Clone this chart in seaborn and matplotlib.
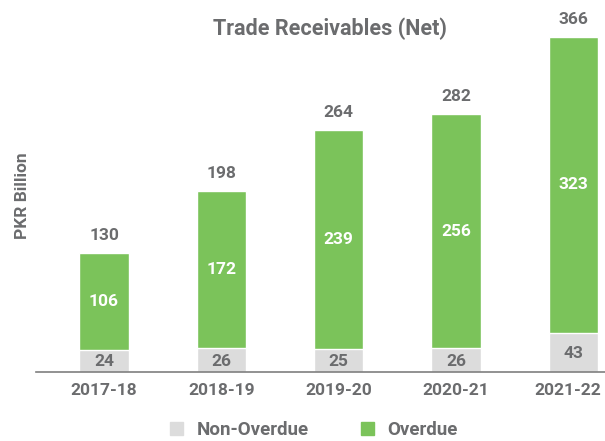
import matplotlib
matplotlib.use("Agg")
import pandas as pd
import matplotlib.pyplot as plt
import matplotlib.transforms as mtransforms
import seaborn as sns
from matplotlib.patches import Patch

# data (PKR billion)
years = ["2017-18", "2018-19", "2019-20", "2020-21", "2021-22"]
non_overdue = [24, 26, 25, 26, 43]
overdue = [106, 172, 239, 256, 323]
totals = [130, 198, 264, 282, 366]

GREEN = "#7bc35a"
GREY = "#dcdcdc"
TEXT = "#6b6c6e"

df = pd.DataFrame({"Year": years, "NonOverdue": non_overdue,
                   "Overdue": overdue, "Total": totals})

sns.set_theme(style="white")
plt.rcParams["font.family"] = ["Roboto", "DejaVu Sans"]

fig = plt.figure(figsize=(6.05, 4.41), dpi=100)
ax = fig.add_axes([0.0595, 0.1565, 0.9405, 0.798])

# green = full stack, grey drawn over the lower part
sns.barplot(x="Year", y="Total", data=df, color=GREEN, width=0.42,
            saturation=1, ax=ax)
sns.barplot(x="Year", y="NonOverdue", data=df, color=GREY, width=0.42,
            saturation=1, ax=ax)

for i, row in df.iterrows():
    ax.text(i, row.NonOverdue / 2 - 1, str(row.NonOverdue), ha="center", va="center",
            color=TEXT, fontsize=12.5, fontweight="bold")
    ax.text(i, row.NonOverdue + row.Overdue / 2, str(row.Overdue), ha="center",
            va="center", color="white", fontsize=12.5, fontweight="bold")
    ax.text(i, row.Total + 11, str(row.Total), ha="center", va="bottom",
            color=TEXT, fontsize=12.5, fontweight="bold")

ax.set_xlim(-0.58, 4.27)
ax.set_ylim(0, 384.7)
ax.set_yticks([])
ax.set_xlabel("")
ax.set_ylabel("PKR Billion", color=TEXT, fontsize=12.5, fontweight="bold", labelpad=4)
ax.tick_params(axis="x", length=0, pad=8, labelsize=12.5, labelcolor=TEXT)
for lbl in ax.get_xticklabels():
    lbl.set_fontweight("bold")
# last label sits right at the edge; nudge it in a little
last = ax.get_xticklabels()[-1]
last.set_transform(last.get_transform() + mtransforms.ScaledTranslation(-6 / 100, 0, fig.dpi_scale_trans))
for s in ["top", "right", "left"]:
    ax.spines[s].set_visible(False)
ax.spines["bottom"].set_color("#7f7f7f")
ax.spines["bottom"].set_linewidth(1.2)

fig.text(0.546, 0.935, "Trade Receivables (Net)", ha="center", va="center",
         color=TEXT, fontsize=15.5, fontweight="bold")

handles = [Patch(color=GREY, label="Non-Overdue"), Patch(color=GREEN, label="Overdue")]
leg = fig.legend(handles=handles, loc="center", bbox_to_anchor=(0.519, 0.025), ncol=2,
                 frameon=False, handlelength=0.7, handleheight=0.7, columnspacing=2.8,
                 handletextpad=0.7, prop={"size": 13.5, "weight": "bold"})
for t in leg.get_texts():
    t.set_color(TEXT)

plt.savefig("out.png", dpi=100)
plt.close()
